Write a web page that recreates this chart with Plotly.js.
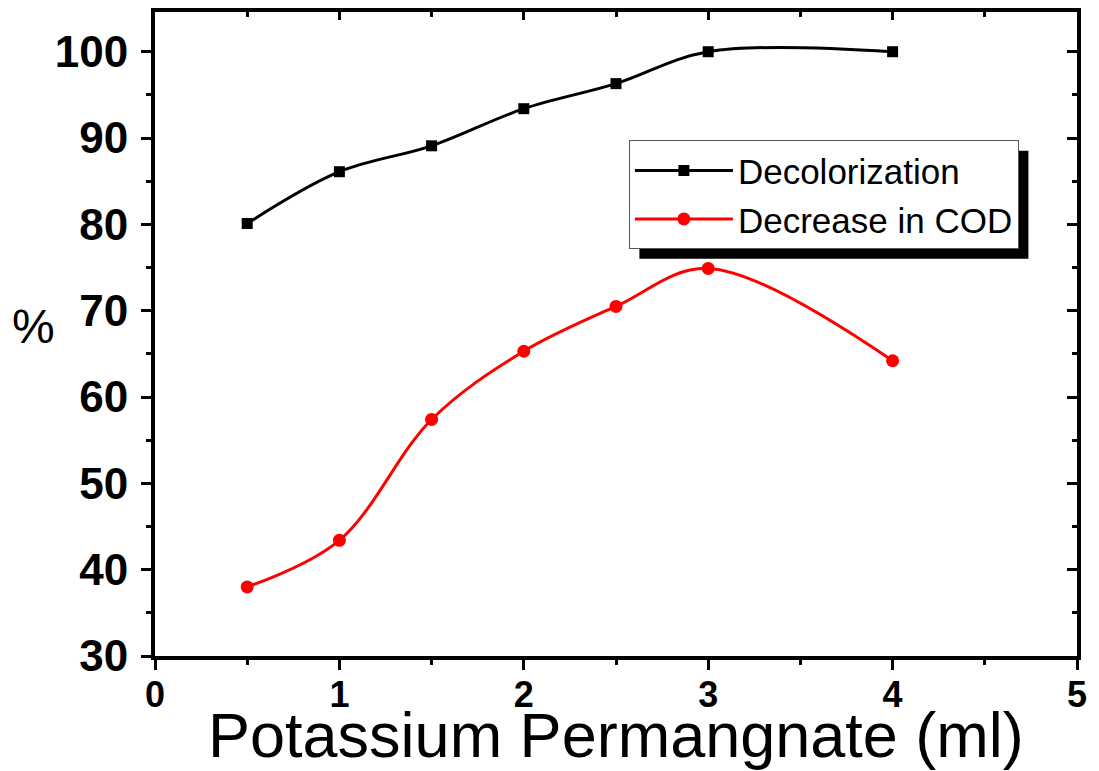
<!DOCTYPE html>
<html><head><meta charset="utf-8">
<script src="https://cdn.plot.ly/plotly-3.0.1.min.js"></script>
<style>body{margin:0;background:#fff}#c{width:1099px;height:771px}</style>
</head><body><div id="c"></div>
<script>
const kmno4 = [0.5, 1, 1.5, 2, 2.5, 3, 4];
const decolorization = [80.1, 86.1, 89.1, 93.4, 96.3, 100, 100];
const codDecrease = [38.0, 43.4, 57.4, 65.3, 70.5, 74.9, 64.2];
const seriesNames = ["Decolorization", "Decrease in COD"];
const xTitle = "Potassium Permangnate (ml)";
const yTitle = "%";

const F = "Liberation Sans, Arial, sans-serif";
const traces = [
  {x: kmno4, y: decolorization, name: seriesNames[0], type: "scatter", mode: "lines+markers",
   line: {color: "#000", width: 3, shape: "spline", smoothing: 1},
   marker: {symbol: "square", size: 11, color: "#000"}},
  {x: kmno4, y: codDecrease, name: seriesNames[1], type: "scatter", mode: "lines+markers",
   line: {color: "#ff0000", width: 3, shape: "spline", smoothing: 1},
   marker: {symbol: "circle", size: 13, color: "#ff0000"}},
  {x: [0], y: [0], xaxis: "x2", yaxis: "y2", showlegend: false, hoverinfo: "skip",
   mode: "markers", marker: {opacity: 0}}
];
const axBase = {showgrid: false, zeroline: false, showline: true, linecolor: "#000", linewidth: 4,
  tickcolor: "#000", tickwidth: 3};
const layout = {
  width: 1099, height: 771, paper_bgcolor: "#fff", plot_bgcolor: "#fff",
  margin: {l: 155, r: 22, t: 12, b: 115},
  showlegend: true,
  legend: {x: 0.514, y: 0.801, xanchor: "left", yanchor: "top", bgcolor: "#fff",
    bordercolor: "#555", borderwidth: 1, font: {family: F, size: 35, color: "#000"},
    itemwidth: 98, tracegroupgap: 0},
  xaxis: Object.assign({}, axBase, {range: [0, 5], dtick: 1, ticks: "outside", ticklen: 10,
    minor: {dtick: 0.5, ticks: "outside", ticklen: 5, tickwidth: 3, tickcolor: "#000"},
    tickfont: {family: F, size: 36, color: "#000", weight: "bold"}, ticklabelstandoff: -6}),
  yaxis: Object.assign({}, axBase, {range: [30, 104.6], dtick: 10, tick0: 30, ticks: "outside", ticklen: 10,
    minor: {dtick: 5, ticks: "outside", ticklen: 5, tickwidth: 3, tickcolor: "#000"},
    tickfont: {family: F, size: 44, color: "#000", weight: "bold"}, ticklabelstandoff: 4}),
  xaxis2: Object.assign({}, axBase, {overlaying: "x", side: "top", range: [0, 5], dtick: 1,
    ticks: "inside", ticklen: 8, showticklabels: false,
    minor: {dtick: 0.5, ticks: "inside", ticklen: 5, tickwidth: 3, tickcolor: "#000"}}),
  yaxis2: Object.assign({}, axBase, {overlaying: "y", side: "right", range: [30, 104.6], dtick: 10, tick0: 30,
    ticks: "inside", ticklen: 10, showticklabels: false,
    minor: {dtick: 5, ticks: "inside", ticklen: 5, tickwidth: 3, tickcolor: "#000"}}),
  shapes: [
    {type: "rect", xref: "paper", yref: "paper", x0: 0.524, x1: 0.947, y0: 0.621, y1: 0.786,
     fillcolor: "#000", line: {width: 0}, layer: "above"}
  ],
  annotations: [
    {text: xTitle, xref: "paper", yref: "paper", x: 0.5, y: -0.123, showarrow: false,
     font: {family: F, size: 63, color: "#000"}, xanchor: "center", yanchor: "middle"},
    {text: yTitle, xref: "paper", yref: "paper", x: -0.132, y: 0.512, showarrow: false,
     font: {family: F, size: 48, color: "#000"}, xanchor: "center", yanchor: "middle"}
  ]
};
Plotly.newPlot("c", traces, layout, {displayModeBar: false, staticPlot: true}).then(function (gd) {
  const bg = gd.querySelector(".legend .bg");
  if (!bg) return;
  const r = bg.getBoundingClientRect();
  const c = gd.getBoundingClientRect();
  const s = gd._fullLayout._size;
  const off = 10;
  const px = function (v) { return (v - c.left - s.l) / s.w; };
  const py = function (v) { return 1 - (v - c.top - s.t) / s.h; };
  return Plotly.relayout(gd, {
    "shapes[0].x0": px(r.left + off), "shapes[0].x1": px(r.right + off),
    "shapes[0].y0": py(r.bottom + off), "shapes[0].y1": py(r.top + off)
  });
});
</script></body></html>
